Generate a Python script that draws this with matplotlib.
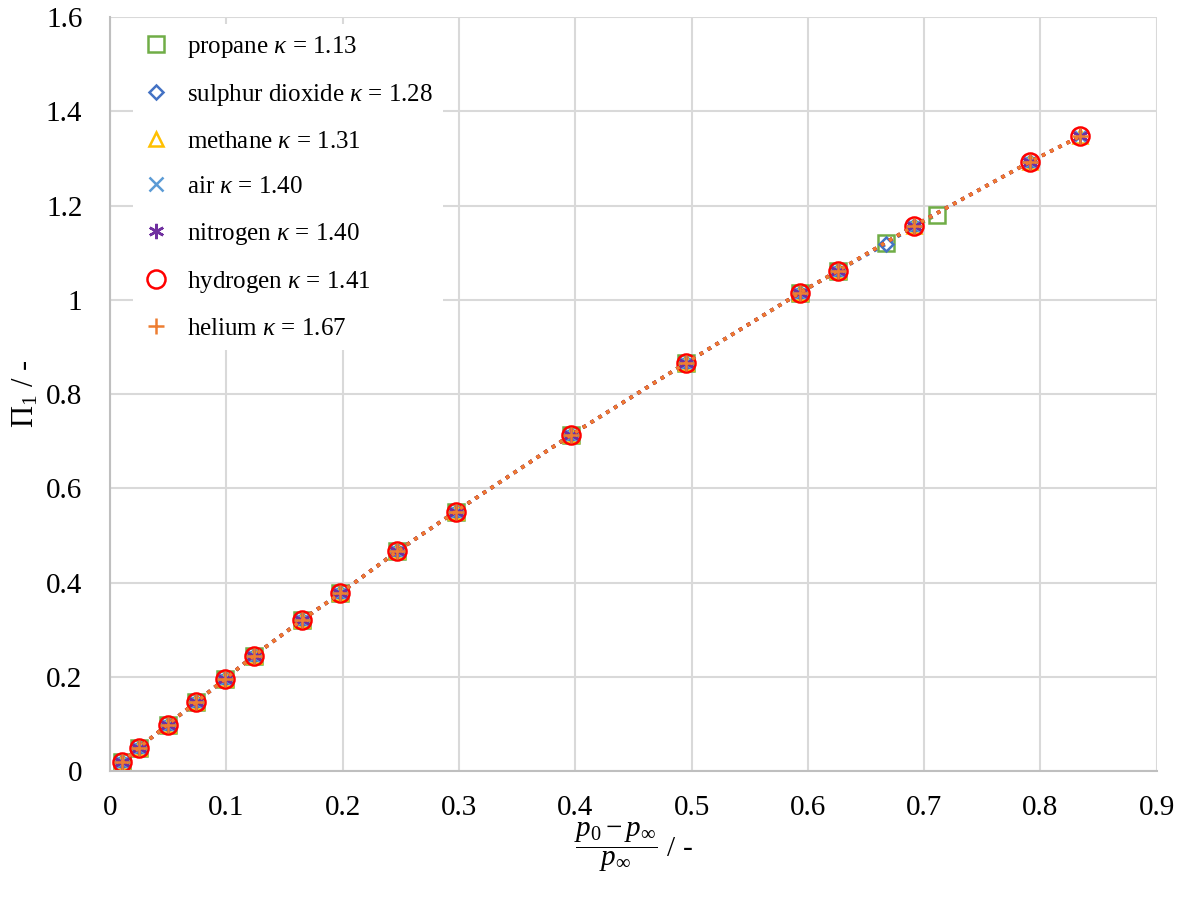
import matplotlib.pyplot as plt

plt.rcParams['font.family'] = ['Liberation Serif', 'DejaVu Serif']
plt.rcParams['mathtext.fontset'] = 'custom'
plt.rcParams['mathtext.rm'] = 'Liberation Serif'
plt.rcParams['mathtext.it'] = 'Liberation Serif:italic'

# pressure ratio (p0 - p_inf) / p_inf and Pi_1
x_all = [0.0099, 0.0247, 0.0494, 0.0741, 0.0988, 0.1235, 0.165, 0.198, 0.247,
         0.297, 0.396, 0.495, 0.593, 0.626, 0.691, 0.791, 0.834]
y_all = [0.019, 0.050, 0.099, 0.147, 0.196, 0.245, 0.321, 0.378, 0.467,
         0.551, 0.713, 0.866, 1.015, 1.062, 1.157, 1.293, 1.347]

x_propane = x_all[:14] + [0.667, 0.711]
y_propane = y_all[:14] + [1.121, 1.181]

x_so2 = x_all[:14] + [0.667, 0.691, 0.791]
y_so2 = y_all[:14] + [1.118, 1.157, 1.293]

labels = ['propane $\\it{\\kappa}$ = 1.13', 'sulphur dioxide $\\it{\\kappa}$ = 1.28',
          'methane $\\it{\\kappa}$ = 1.31', 'air $\\it{\\kappa}$ = 1.40',
          'nitrogen $\\it{\\kappa}$ = 1.40', 'hydrogen $\\it{\\kappa}$ = 1.41',
          'helium $\\it{\\kappa}$ = 1.67']

fig = plt.figure(figsize=(11.84, 8.99), dpi=100)
ax = fig.add_axes([0.093, 0.142, 0.884, 0.839])

series = [
    (x_propane, y_propane, '#70AD47', 's', 12),
    (x_so2, y_so2, '#4472C4', 'D', 7),
    (x_all, y_all, '#FFC000', '^', 10),
    (x_all, y_all, '#5B9BD5', 'x', 10),
    (x_all, y_all, '#7030A0', (6, 2, 0), 11),
    (x_all, y_all, '#FF0000', 'o', 13),
    (x_all, y_all, '#ED7D31', '+', 12),
]
for (xs, ys, c, m, ms), lab in zip(series, labels):
    ax.plot(xs, ys, linestyle=':', linewidth=2.5, color=c, marker=m,
            markersize=ms, markerfacecolor='none', markeredgecolor=c,
            markeredgewidth=1.8, label=lab)

ax.set_xlim(0, 0.9)
ax.set_ylim(0, 1.6)
ax.set_xticks([0, 0.1, 0.2, 0.3, 0.4, 0.5, 0.6, 0.7, 0.8, 0.9])
ax.set_xticklabels(['0', '0.1', '0.2', '0.3', '0.4', '0.5', '0.6', '0.7', '0.8', '0.9'])
ax.set_yticks([0, 0.2, 0.4, 0.6, 0.8, 1.0, 1.2, 1.4, 1.6])
ax.set_yticklabels(['0', '0.2', '0.4', '0.6', '0.8', '1', '1.2', '1.4', '1.6'])
ax.tick_params(axis='x', length=0, labelsize=21, pad=17)
ax.tick_params(axis='y', length=0, labelsize=21, pad=20)
ax.grid(True, color='#D9D9D9', linewidth=1.5)
ax.set_axisbelow(True)
for s in ['top', 'right']:
    ax.spines[s].set_visible(False)
for s in ['left', 'bottom']:
    ax.spines[s].set_color('#BFBFBF')
    ax.spines[s].set_linewidth(1.5)

ax.set_xlabel('$\\dfrac{p_0 - p_\\infty}{p_\\infty}$ / -', fontsize=21, labelpad=0)
ax.set_ylabel('$\\Pi_1$ / -', fontsize=22, labelpad=4)

leg = ax.legend(loc='upper left', bbox_to_anchor=(0.01, 1.008), fontsize=18,
                labelspacing=0.9, handlelength=1.0, handletextpad=0.75,
                frameon=True, edgecolor='none', facecolor='white', framealpha=1)
for h in leg.legend_handles:
    h.set_linestyle('none')

fig.savefig('out.png', dpi=100)
